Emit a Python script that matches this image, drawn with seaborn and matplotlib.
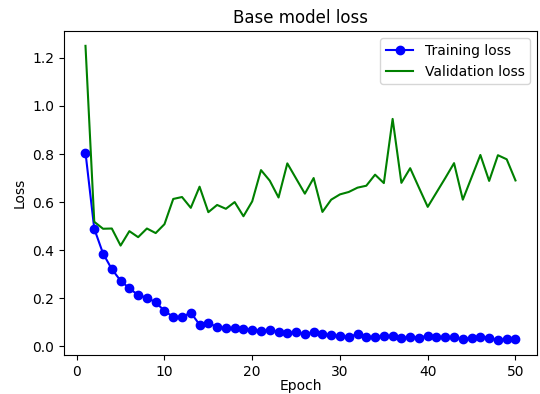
import matplotlib
matplotlib.use("Agg")
import matplotlib.pyplot as plt
import seaborn as sns
import pandas as pd

# epoch values
epochs = list(range(1, 51))
train_loss = [0.806, 0.489, 0.386, 0.321, 0.273, 0.241, 0.213, 0.202, 0.183, 0.147,
              0.122, 0.122, 0.140, 0.090, 0.097, 0.080, 0.075, 0.076, 0.073, 0.068,
              0.064, 0.066, 0.061, 0.054, 0.060, 0.050, 0.060, 0.051, 0.047, 0.042,
              0.039, 0.051, 0.039, 0.039, 0.043, 0.043, 0.033, 0.040, 0.036, 0.044,
              0.040, 0.037, 0.037, 0.029, 0.035, 0.040, 0.036, 0.025, 0.031, 0.031]
val_loss = [1.250, 0.518, 0.489, 0.490, 0.419, 0.479, 0.454, 0.490, 0.471, 0.508,
            0.613, 0.621, 0.576, 0.664, 0.558, 0.588, 0.572, 0.600, 0.541, 0.603,
            0.733, 0.689, 0.619, 0.761, 0.698, 0.635, 0.700, 0.559, 0.610, 0.632,
            0.642, 0.660, 0.668, 0.714, 0.679, 0.946, 0.680, 0.741, 0.660, 0.580,
            0.640, 0.700, 0.762, 0.610, 0.703, 0.796, 0.688, 0.795, 0.778, 0.690]

df = pd.DataFrame({"epoch": epochs, "train": train_loss, "val": val_loss})

fig, ax = plt.subplots(figsize=(5.4, 3.94), dpi=100)
fig.subplots_adjust(left=0.1185, right=0.9944, top=0.921, bottom=0.099)

sns.lineplot(data=df, x="epoch", y="train", ax=ax, color="blue", marker="o",
             markersize=6, markeredgecolor="blue", markeredgewidth=1,
             linewidth=1.5, label="Training loss")
sns.lineplot(data=df, x="epoch", y="val", ax=ax, color="green",
             linewidth=1.5, label="Validation loss")

ax.set_title("Base model loss")
ax.set_xlabel("Epoch", labelpad=0.5)
ax.set_ylabel("Loss")
ax.legend(loc="upper right")

fig.savefig("out.png", dpi=100)
